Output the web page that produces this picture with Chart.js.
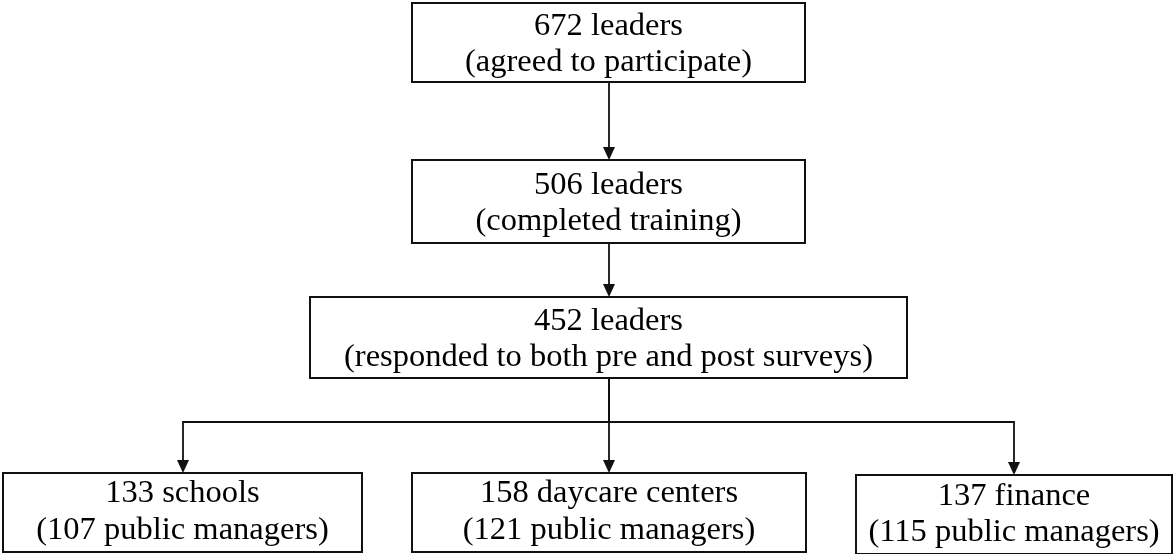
<!DOCTYPE html>
<html>
<head>
<meta charset="utf-8">
<script src="https://cdn.jsdelivr.net/npm/chart.js@4"></script>
<style>
  html, body { margin: 0; padding: 0; background: #fff; }
  canvas { display: block; }
</style>
</head>
<body>
<canvas id="flow" width="1174" height="554"></canvas>
<script>
// flow data
const stepCounts = [672, 506, 452, 133, 158, 137];
const stepUnits = ['leaders', 'leaders', 'leaders', 'schools', 'daycare centers', 'finance'];
const stepNotes = [
  '(agreed to participate)',
  '(completed training)',
  '(responded to both pre and post surveys)',
  '(107 public managers)',
  '(121 public managers)',
  '(115 public managers)'
];
// which step feeds which
const links = [[0, 1], [1, 2], [2, 3], [2, 4], [2, 5]];

// layout, in scale units (1 unit = 1 px)
const boxX0 = [412, 412, 310, 3, 412, 856];
const boxX1 = [805, 805, 907, 362, 806, 1172];
const boxY0 = [3, 160, 297, 473, 473, 475];
const boxY1 = [82, 243, 378, 552, 552, 554];
const branchY = 422;
const line1Shift = [-16, -16, -16, -19, -19, -18];
const line2Shift = [20, 20, 20, 18, 18, 18];

const centers = boxX0.map((x0, i) => ({ x: (x0 + boxX1[i]) / 2, y: (boxY0[i] + boxY1[i]) / 2 }));

function arrowHead(ctx, x, y) {
  ctx.beginPath();
  ctx.moveTo(x, y);
  ctx.lineTo(x - 6, y - 13);
  ctx.lineTo(x + 6, y - 13);
  ctx.closePath();
  ctx.fill();
}

const flowPlugin = {
  id: 'flow',
  afterDatasetsDraw(chart) {
    const ctx = chart.ctx;
    const xs = chart.scales.x, ys = chart.scales.y;
    const px = v => Math.round(xs.getPixelForValue(v));
    const py = v => ys.getPixelForValue(v);
    ctx.save();
    ctx.strokeStyle = '#111';
    ctx.fillStyle = '#111';
    ctx.lineWidth = 1.8;

    // connectors (children almost under the parent share its trunk)
    links.forEach(([a, b]) => {
      const xa = centers[a].x;
      let xb = centers[b].x;
      if (Math.abs(xa - xb) < 5) xb = xa;
      ctx.beginPath();
      if (xb === xa) {
        ctx.moveTo(px(xa), py(boxY1[a]));
        ctx.lineTo(px(xa), py(boxY0[b]) - 2);
      } else {
        ctx.moveTo(px(xa), py(boxY1[a]));
        ctx.lineTo(px(xa), py(branchY));
        ctx.lineTo(px(xb), py(branchY));
        ctx.lineTo(px(xb), py(boxY0[b]) - 2);
      }
      ctx.stroke();
      arrowHead(ctx, px(xb), py(boxY0[b]));
    });

    // boxes and text, one per point of the dataset
    const meta = chart.getDatasetMeta(0);
    ctx.textAlign = 'center';
    ctx.textBaseline = 'middle';
    ctx.font = '32.5px "Liberation Serif", "Times New Roman", serif';
    meta.data.forEach((pt, i) => {
      const x0 = px(boxX0[i]), x1 = px(boxX1[i]);
      const y0 = py(boxY0[i]), y1 = py(boxY1[i]);
      ctx.fillStyle = '#fff';
      ctx.fillRect(x0, y0, x1 - x0, y1 - y0);
      ctx.strokeStyle = '#111';
      ctx.lineWidth = 2;
      ctx.strokeRect(x0, y0, x1 - x0, y1 - y0);
      ctx.fillStyle = '#000';
      ctx.fillText(stepCounts[i] + ' ' + stepUnits[i], pt.x, pt.y + line1Shift[i]);
      ctx.fillText(stepNotes[i], pt.x, pt.y + line2Shift[i]);
    });
    ctx.restore();
  }
};

new Chart(document.getElementById('flow').getContext('2d'), {
  type: 'scatter',
  data: {
    datasets: [{
      label: 'steps',
      data: centers,
      pointRadius: 0,
      pointHoverRadius: 0
    }]
  },
  options: {
    responsive: false,
    animation: false,
    devicePixelRatio: 1,
    layout: { padding: 0 },
    plugins: { legend: { display: false }, tooltip: { enabled: false } },
    scales: {
      x: { type: 'linear', min: 0, max: 1174, display: false },
      y: { type: 'linear', min: 0, max: 554, reverse: true, display: false }
    }
  },
  plugins: [flowPlugin]
});
</script>
</body>
</html>
